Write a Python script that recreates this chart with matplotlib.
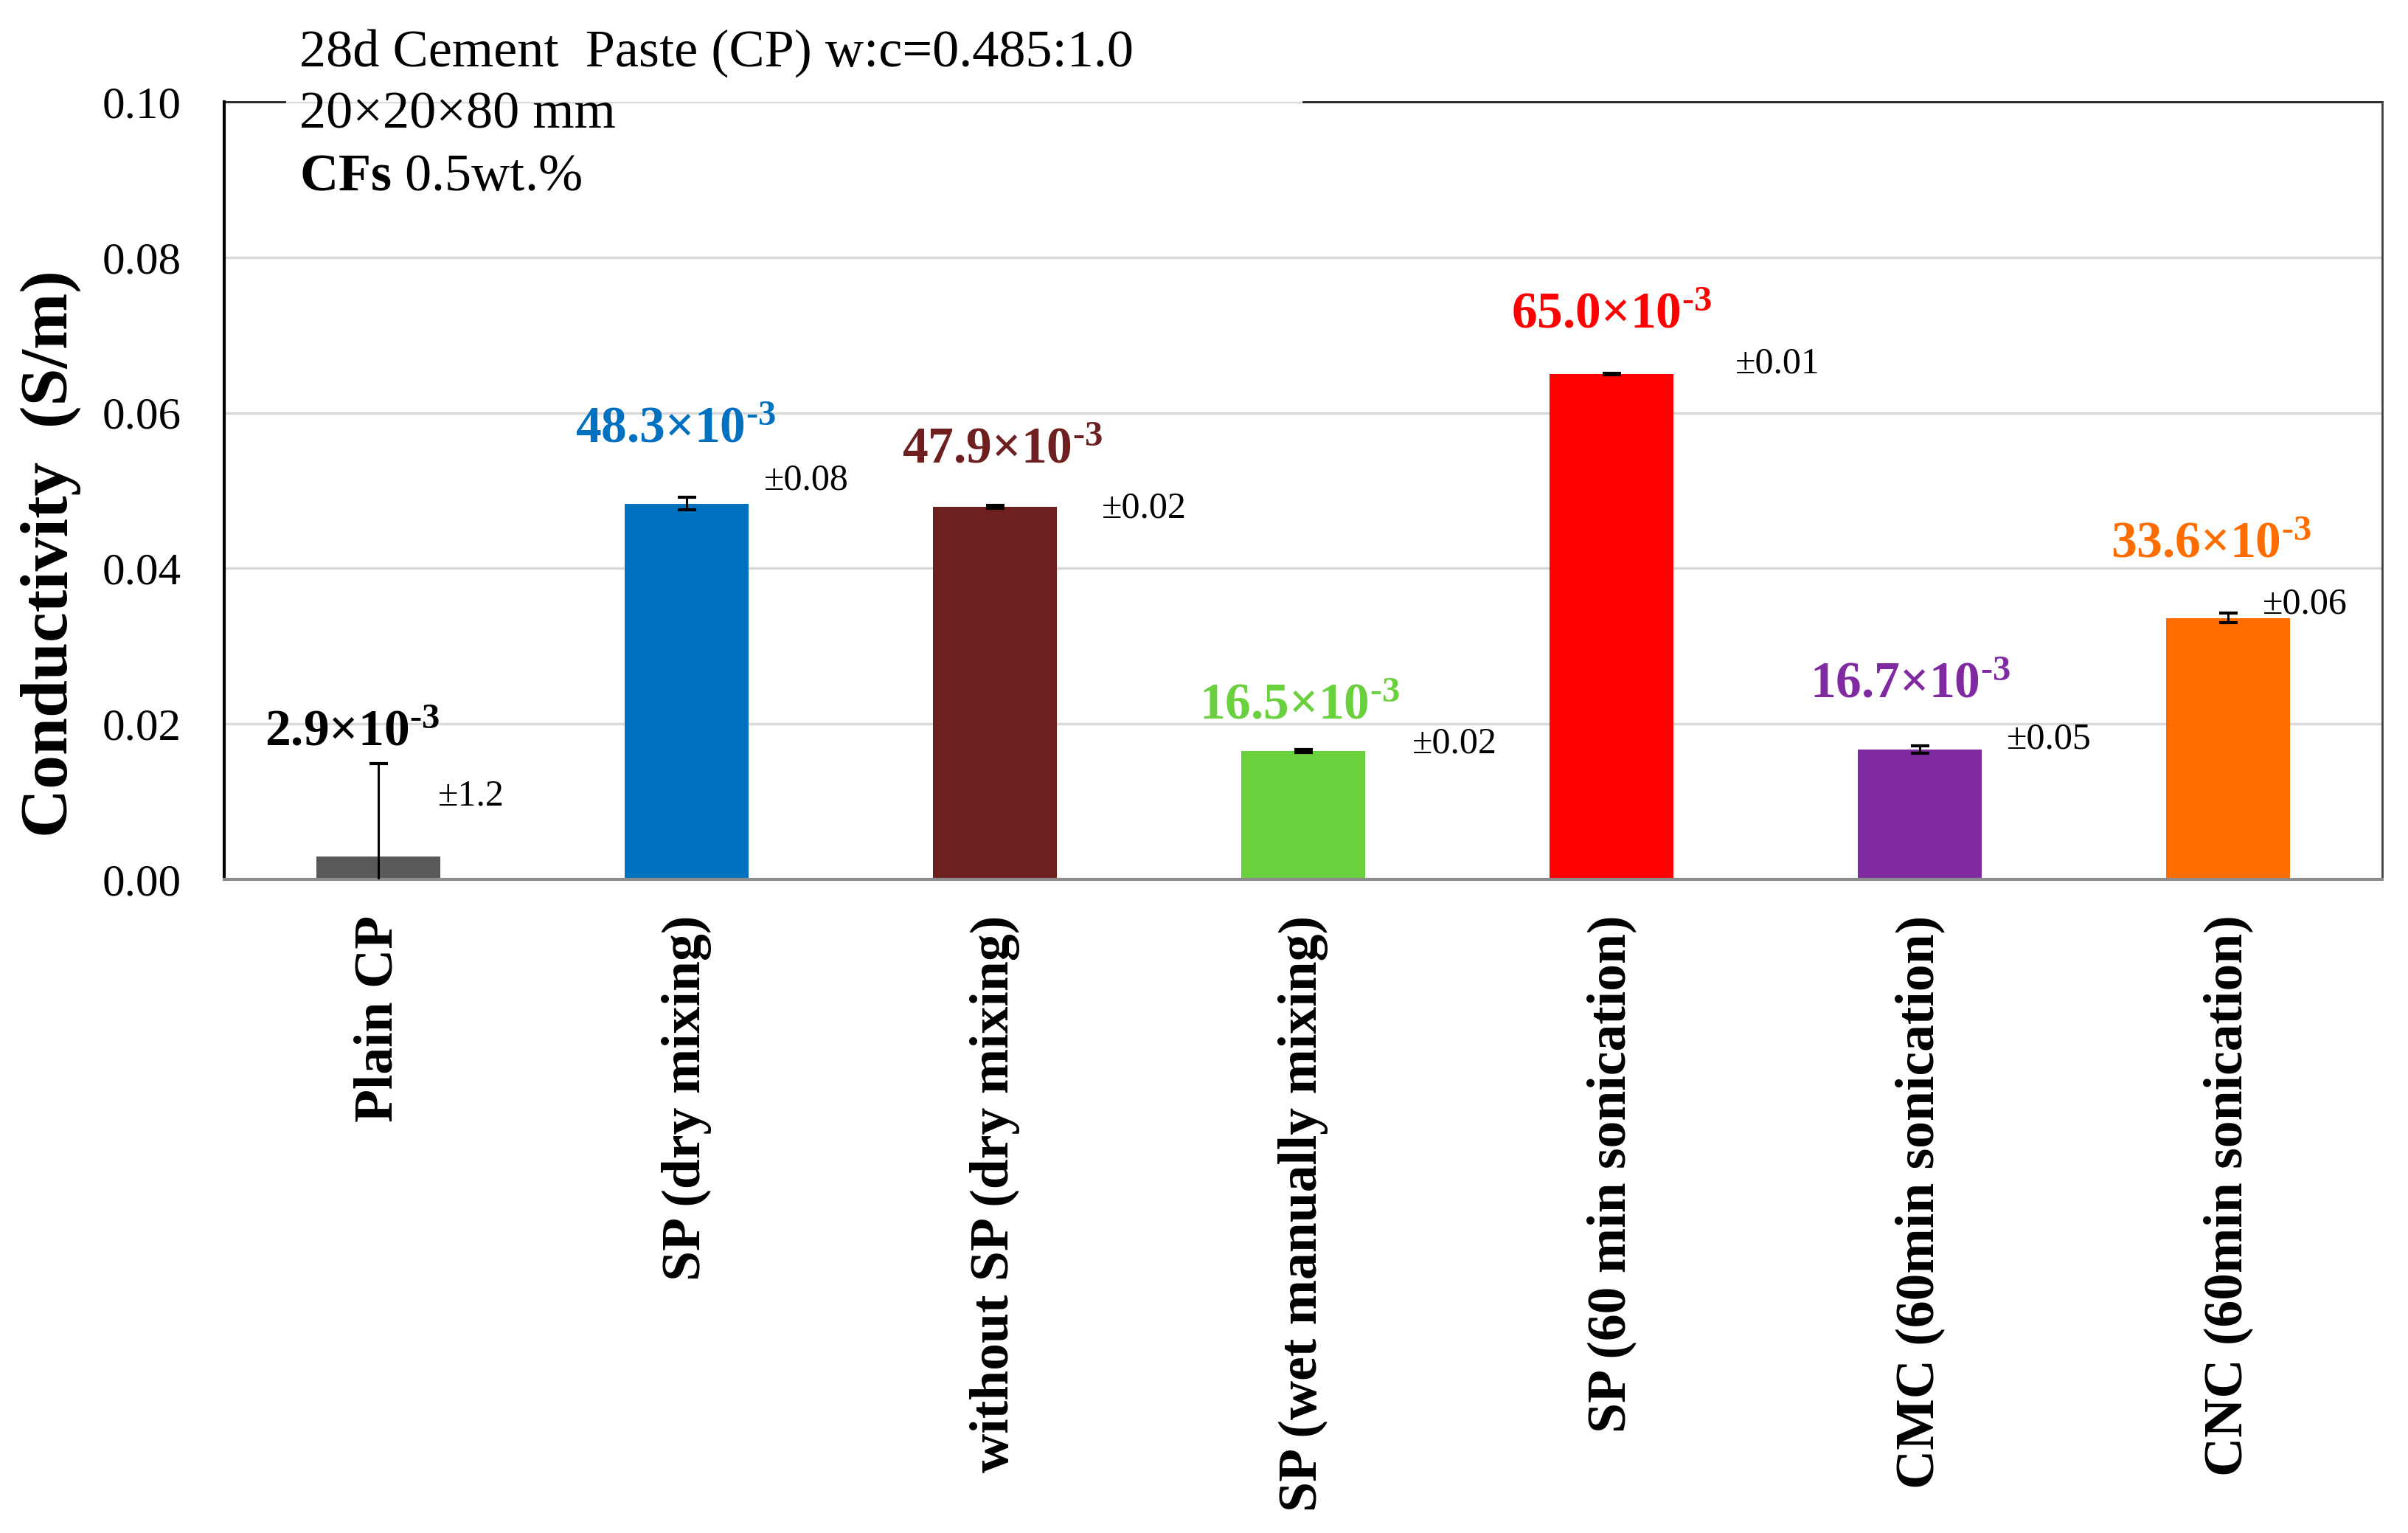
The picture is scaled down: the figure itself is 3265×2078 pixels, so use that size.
import matplotlib
matplotlib.use('Agg')
import matplotlib.pyplot as plt
import numpy as np

plt.rcParams['font.family'] = ['Liberation Serif', 'DejaVu Serif']
plt.rcParams['mathtext.fontset'] = 'custom'
plt.rcParams['mathtext.rm'] = 'Liberation Serif'
plt.rcParams['mathtext.bf'] = 'Liberation Serif:bold'
plt.rcParams['mathtext.it'] = 'Liberation Serif:italic'

# data
categories = ['Plain CP', 'SP (dry mixing)', 'without SP (dry mixing)',
              'SP (wet manually mixing)', 'SP (60 min sonication)',
              'CMC (60min sonication)', 'CNC (60min sonication)']
conductivity = [0.0029, 0.0483, 0.0479, 0.0165, 0.0650, 0.0167, 0.0336]
errors = [0.012, 0.0008, 0.0002, 0.0002, 0.0001, 0.0005, 0.0006]
value_labels = ['2.9', '48.3', '47.9', '16.5', '65.0', '16.7', '33.6']
error_labels = ['±1.2', '±0.08', '±0.02', '±0.02', '±0.01', '±0.05', '±0.06']
bar_colors = ['#595959', '#0070C0', '#6E1F1F', '#6AD13E', '#FF0000', '#7F2AA0', '#FF6D00']
label_colors = ['#000000', '#0070C0', '#6E1F1F', '#6AD13E', '#FF0000', '#7F2AA0', '#FF6D00']

# annotation placement (x offset in category units, y in data units)
value_dx = [-0.085, -0.037, 0.025, -0.012, 0.0, -0.032, -0.055]
value_y = [0.0188, 0.0578, 0.0552, 0.0222, 0.0725, 0.0250, 0.0430]
err_dx = [0.30, 0.387, 0.484, 0.49, 0.54, 0.42, 0.25]
err_y = [0.0107, 0.0513, 0.0477, 0.0174, 0.0663, 0.0180, 0.0354]

fig = plt.figure(figsize=(32.66, 20.78), dpi=100)
ax = fig.add_axes([0.0931, 0.4264, 0.8959, 0.5072])

x = np.arange(len(categories))
ax.bar(x, conductivity, width=0.4, color=bar_colors, zorder=2)
ax.errorbar(x, conductivity, yerr=errors, fmt='none', ecolor='black',
            elinewidth=2.2, capsize=9, capthick=3, zorder=3)

for i in range(len(categories)):
    ax.text(x[i] + value_dx[i], value_y[i],
            value_labels[i] + r'×10$^{\mathbf{\text{-}3}}$',
            ha='center', va='center', fontsize=50, fontweight='bold',
            color=label_colors[i])
    ax.text(x[i] + err_dx[i], err_y[i], error_labels[i],
            ha='center', va='center', fontsize=36, color='black')

ax.set_xlim(-0.5, len(categories) - 0.5)
ax.set_ylim(0, 0.10)
ax.set_yticks([0.0, 0.02, 0.04, 0.06, 0.08, 0.10])
ax.set_yticklabels(['0.00', '0.02', '0.04', '0.06', '0.08', '0.10'])
ax.set_xticks(x)
ax.set_xticklabels(categories, rotation=90, fontsize=53, fontweight='bold')
ax.tick_params(axis='y', length=0, pad=42, labelsize=44)
ax.tick_params(axis='x', length=0, pad=35)
ax.yaxis.grid(True, color='#d9d9d9', linewidth=2.5, zorder=0)
ax.set_axisbelow(True)

ax.spines['left'].set_color('#000000')
ax.spines['left'].set_linewidth(3)
ax.spines['bottom'].set_color('#8c8c8c')
ax.spines['bottom'].set_linewidth(3)
ax.spines['right'].set_color('#404040')
ax.spines['right'].set_linewidth(2)
ax.spines['top'].set_visible(False)
# top frame broken by the annotation block
ax.plot([0, 0.028], [1, 1], transform=ax.transAxes, color='#202020',
        linewidth=2, clip_on=False)
ax.plot([0.5, 1], [1, 1], transform=ax.transAxes, color='#202020',
        linewidth=2, clip_on=False)

fig.text(0.021, 0.639, 'Conductivity  (S/m)', rotation=90, ha='center',
         va='center', fontsize=66, fontweight='bold')

fig.text(0.1243, 1 - 90 / 2078, '28d Cement  Paste (CP) w:c=0.485:1.0',
         fontsize=52, va='baseline', ha='left')
fig.text(0.1243, 1 - 173 / 2078, '20×20×80 mm', fontsize=52,
         va='baseline', ha='left')
fig.text(0.1243, 1 - 258 / 2078, r'$\mathbf{CFs}$ 0.5wt.%', fontsize=52,
         va='baseline', ha='left')

fig.savefig('out.png', dpi=100)
